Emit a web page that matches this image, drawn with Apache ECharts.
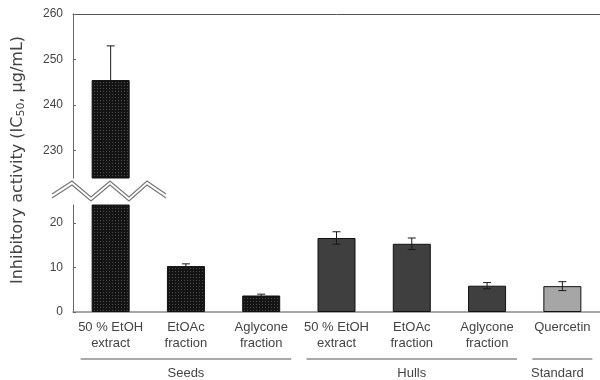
<!DOCTYPE html>
<html><head><meta charset="utf-8">
<script src="https://cdn.jsdelivr.net/npm/echarts@6/dist/echarts.min.js"></script>
<style>html,body{margin:0;padding:0;background:#fff}#c{width:600px;height:380px}</style>
</head><body><div id="c"></div>
<script>
// ---- data ----
var categories = ['50 % EtOH\nextract', 'EtOAc\nfraction', 'Aglycone\nfraction', '50 % EtOH\nextract', 'EtOAc\nfraction', 'Aglycone\nfraction', 'Quercetin'];
var groupOf = ['Seeds', 'Seeds', 'Seeds', 'Hulls', 'Hulls', 'Hulls', 'Standard'];
var groups = ['Seeds', 'Hulls', 'Standard'];
var values = [245.5, 10.3, 3.7, 16.6, 15.3, 5.9, 5.8];
var errors = [7.5, 0.5, 0.3, 1.4, 1.3, 0.7, 1.0];
var upperTicks = [230, 240, 250, 260];
var lowerTicks = [0, 10, 20];
var upperRange = [224, 260];
var lowerRange = [0, 24];

// ---- styles ----
var pc = document.createElement('canvas'); pc.width = 3; pc.height = 3;
var g = pc.getContext('2d'); g.fillStyle = '#141414'; g.fillRect(0,0,3,3);
g.fillStyle = '#4a4a4a'; g.fillRect(1,1,1,1);
var groupColor = { Seeds: {image: pc, repeat: 'repeat'}, Hulls: '#3f3f3f', Standard: '#a6a6a6' };
var font = '"Liberation Sans", Arial, sans-serif';
var txt = '#444';

function barData() {
  return values.map(function (v, i) {
    return { value: v, itemStyle: { color: groupColor[groupOf[i]], borderColor: '#111', borderWidth: 1 } };
  });
}
function errData(lo, hi) {
  var out = [];
  values.forEach(function (v, i) { if (v > lo && v < hi) out.push([i, v, errors[i]]); });
  return out;
}
function renderErr(params, api) {
  var x = api.value(0), v = api.value(1), e = api.value(2);
  var top = api.coord([x, v + e]), bot = api.coord([x, v - e]);
  var w = 4;
  var st = { stroke: '#1a1a1a', lineWidth: 1 };
  return { type: 'group', children: [
    { type: 'line', shape: { x1: top[0], y1: top[1], x2: bot[0], y2: bot[1] }, style: st },
    { type: 'line', shape: { x1: top[0]-w, y1: top[1], x2: top[0]+w, y2: top[1] }, style: st },
    { type: 'line', shape: { x1: bot[0]-w, y1: bot[1], x2: bot[0]+w, y2: bot[1] }, style: st }
  ]};
}

var chart = echarts.init(document.getElementById('c'), null, { renderer: 'canvas' });
var option = {
  animation: false,
  textStyle: { fontFamily: font },
  grid: [
    { left: 73, right: 0, top: 14, height: 164 },
    { left: 73, right: 0, top: 205, height: 107 }
  ],
  xAxis: [
    { gridIndex: 0, type: 'category', data: categories, position: 'top',
      axisLine: { show: true, lineStyle: { color: '#555', width: 1 } },
      axisTick: { show: false }, axisLabel: { show: false } },
    { gridIndex: 1, type: 'category', data: categories,
      axisLine: { show: true, lineStyle: { color: '#8a8a8a', width: 1.5 } },
      axisTick: { show: false },
      axisLabel: { interval: 0, fontSize: 13, lineHeight: 16, margin: 7, color: txt, fontFamily: font } }
  ],
  yAxis: [
    { gridIndex: 0, type: 'value', min: upperRange[0], max: upperRange[1],
      axisLine: { show: true, lineStyle: { color: '#666', width: 1 } },
      axisTick: { show: true, inside: true, length: 3, customValues: upperTicks, lineStyle: { color: '#666' } },
      axisLabel: { customValues: upperTicks, fontSize: 12, color: txt, margin: 10, fontFamily: font,
        formatter: function (v) { return upperTicks.indexOf(v) >= 0 ? String(v) : ''; } },
      splitLine: { show: false } },
    { gridIndex: 1, type: 'value', min: lowerRange[0], max: lowerRange[1],
      axisLine: { show: true, lineStyle: { color: '#666', width: 1 } },
      axisTick: { show: true, inside: true, length: 3, customValues: lowerTicks, lineStyle: { color: '#666' } },
      axisLabel: { customValues: lowerTicks, fontSize: 12, color: txt, margin: 10, fontFamily: font,
        formatter: function (v) { return lowerTicks.indexOf(v) >= 0 ? String(v) : ''; } },
      splitLine: { show: false } }
  ],
  series: [
    { type: 'bar', xAxisIndex: 0, yAxisIndex: 0, barWidth: 38, data: barData(), clip: true },
    { type: 'bar', xAxisIndex: 1, yAxisIndex: 1, barWidth: 38, data: barData(), clip: true },
    { type: 'custom', xAxisIndex: 0, yAxisIndex: 0, renderItem: renderErr, data: errData(upperRange[0], 1e9), z: 5 },
    { type: 'custom', xAxisIndex: 1, yAxisIndex: 1, renderItem: renderErr, data: errData(-1, lowerRange[1]), z: 5 }
  ]
};
chart.setOption(option);

// ---- annotations: axis break, group lines, y title ----
var gfx = [];
var zz = [[52,194],[72,181],[91,197],[110,181],[129,197],[147,181],[166,194]];
var zz2 = zz.map(function (p) { return [p[0], p[1] + 4]; });
var zzMid = zz.map(function (p) { return [p[0], p[1] + 2]; });
gfx.push({ type: 'polyline', shape: { points: zzMid }, style: { stroke: '#fff', lineWidth: 4, fill: null }, z: 100 });
gfx.push({ type: 'polyline', shape: { points: zz }, style: { stroke: '#777', lineWidth: 1.2, fill: null }, z: 101 });
gfx.push({ type: 'polyline', shape: { points: zz2 }, style: { stroke: '#777', lineWidth: 1.2, fill: null }, z: 101 });

var lineY = 359, labelY = 373;
groups.forEach(function (gname) {
  var idx = [];
  groupOf.forEach(function (gg, i) { if (gg === gname) idx.push(i); });
  var x0 = chart.convertToPixel({ xAxisIndex: 1 }, idx[0]);
  var x1 = chart.convertToPixel({ xAxisIndex: 1 }, idx[idx.length - 1]);
  var l = x0 - 30, r = Math.min(x1 + 30, 600);
  gfx.push({ type: 'line', shape: { x1: l, y1: lineY, x2: r, y2: lineY }, style: { stroke: '#555', lineWidth: 1.2 } });
  gfx.push({ type: 'text', x: (x0 + x1) / 2 - (gname === 'Standard' ? 5 : 0), y: labelY,
    style: { text: gname, fill: txt, font: '13px ' + font, textAlign: 'center', textVerticalAlign: 'middle' } });
});
var tfont = '"DejaVu Sans", sans-serif';
gfx.push({ type: 'text', x: 18, y: 160, rotation: Math.PI / 2,
  style: { text: '{a|Inhibitory activity (IC}{s|50}{a|, μg/mL)}', fill: txt, textAlign: 'center', textVerticalAlign: 'middle',
    rich: { a: { fontSize: 16, fontFamily: tfont, fill: txt, color: txt },
            s: { fontSize: 11, fontFamily: tfont, fill: txt, color: txt, padding: [7, 0, 0, 0] } } } });
chart.setOption({ graphic: gfx });
</script></body></html>
